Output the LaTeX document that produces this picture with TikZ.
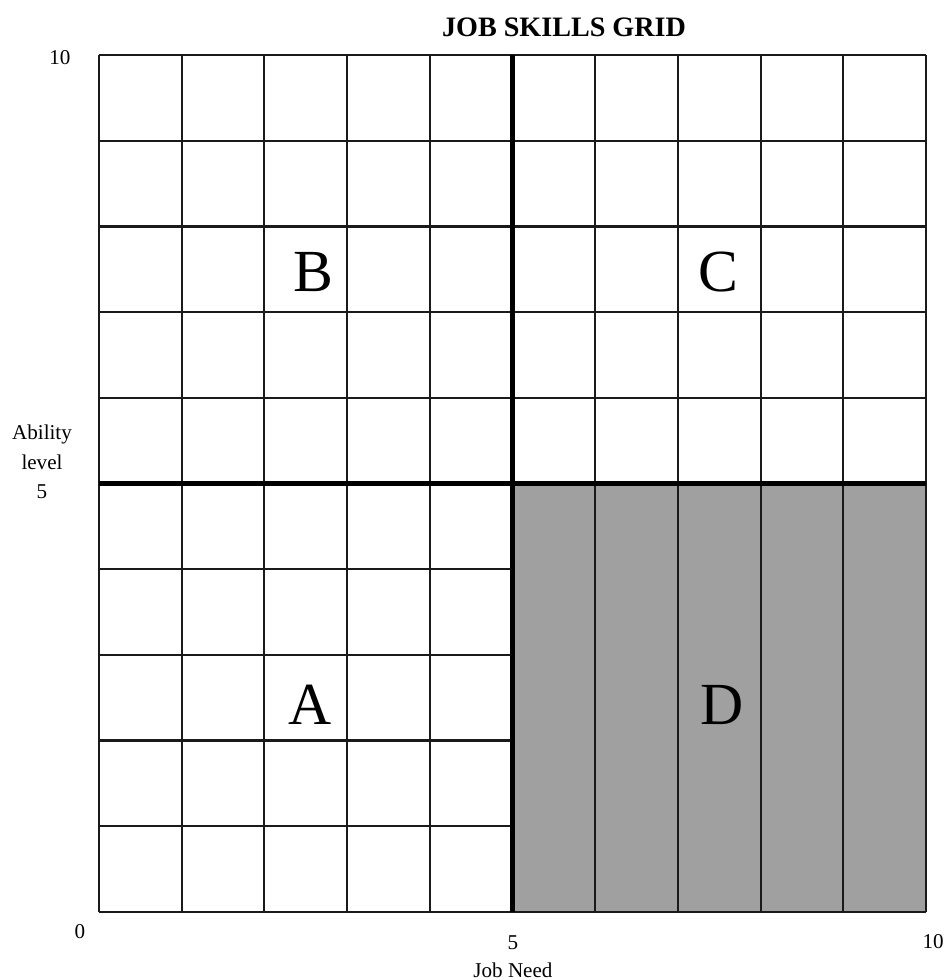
\documentclass[tikz,border=0pt]{standalone}
\usepackage{fontspec}
\setmainfont{Liberation Serif}
\definecolor{jsgShade}{HTML}{A0A0A0}
\definecolor{jsgInk}{HTML}{1A1A1A}
\tikzset{
  jsg line/.style={draw=jsgInk, line width=1.15pt},
  jsg mid/.style={draw=jsgInk, line width=1.5pt},
  jsg heavy/.style={draw=black, line width=2.6pt},
  jsg letter/.style={font=\fontsize{34}{34}\selectfont},
  jsg num/.style={font=\fontsize{12}{16.7}\selectfont, align=center},
  jsg title/.style={font=\bfseries\fontsize{16}{16}\selectfont},
}

\begin{document}
\begin{tikzpicture}[x=1.654cm,y=1.714cm]
  \useasboundingbox (-1.197,-0.793) rectangle (10.266,10.642);

  % quadrant D shading
  \fill[jsgShade] (5,0) rectangle (10,5);

  % grid: columns run the full height, rows stop at D
  \foreach \i in {0,...,10} {
    \draw[jsg line] (\i,0) -- (\i,10);
  }
  \foreach \j in {5,6,7,9,10} {
    \draw[jsg line] (0,\j) -- (10,\j);
  }
  \foreach \j in {0,1,3,4} {
    \draw[jsg line] (0,\j) -- (5,\j);
  }
  \draw[jsg line] (5,0) -- (10,0);
  \draw[jsg mid] (0,8) -- (10,8);
  \draw[jsg mid] (0,2) -- (5,2);

  % quadrant dividers
  \draw[jsg heavy] (5,0) -- (5,10);
  \draw[jsg heavy] (0,5) -- (10,5);

  % quadrant letters
  \node[jsg letter] (qB) at (2.588,7.468) {B};
  \node[jsg letter] (qC) at (7.485,7.468) {C};
  \node[jsg letter] (qA) at (2.551,2.415) {A};
  \node[jsg letter] (qD) at (7.533,2.415) {D};

  % axes text
  \node[jsg title] (title) at (5.623,10.327) {JOB SKILLS GRID};
  \node[jsg num] (ytop) at (-0.472,9.965) {10};
  \node[jsg num] (ylabel) at (-0.689,5.251) {Ability\\level\\5};
  \node[jsg num] (yzero) at (-0.23,-0.233) {0};
  \node[jsg num] (xmid) at (5.006,-0.362) {5};
  \node[jsg num] (xname) at (5.006,-0.677) {Job Need};
  \node[jsg num] (xtop) at (10.085,-0.35) {10};
\end{tikzpicture}
\end{document}
